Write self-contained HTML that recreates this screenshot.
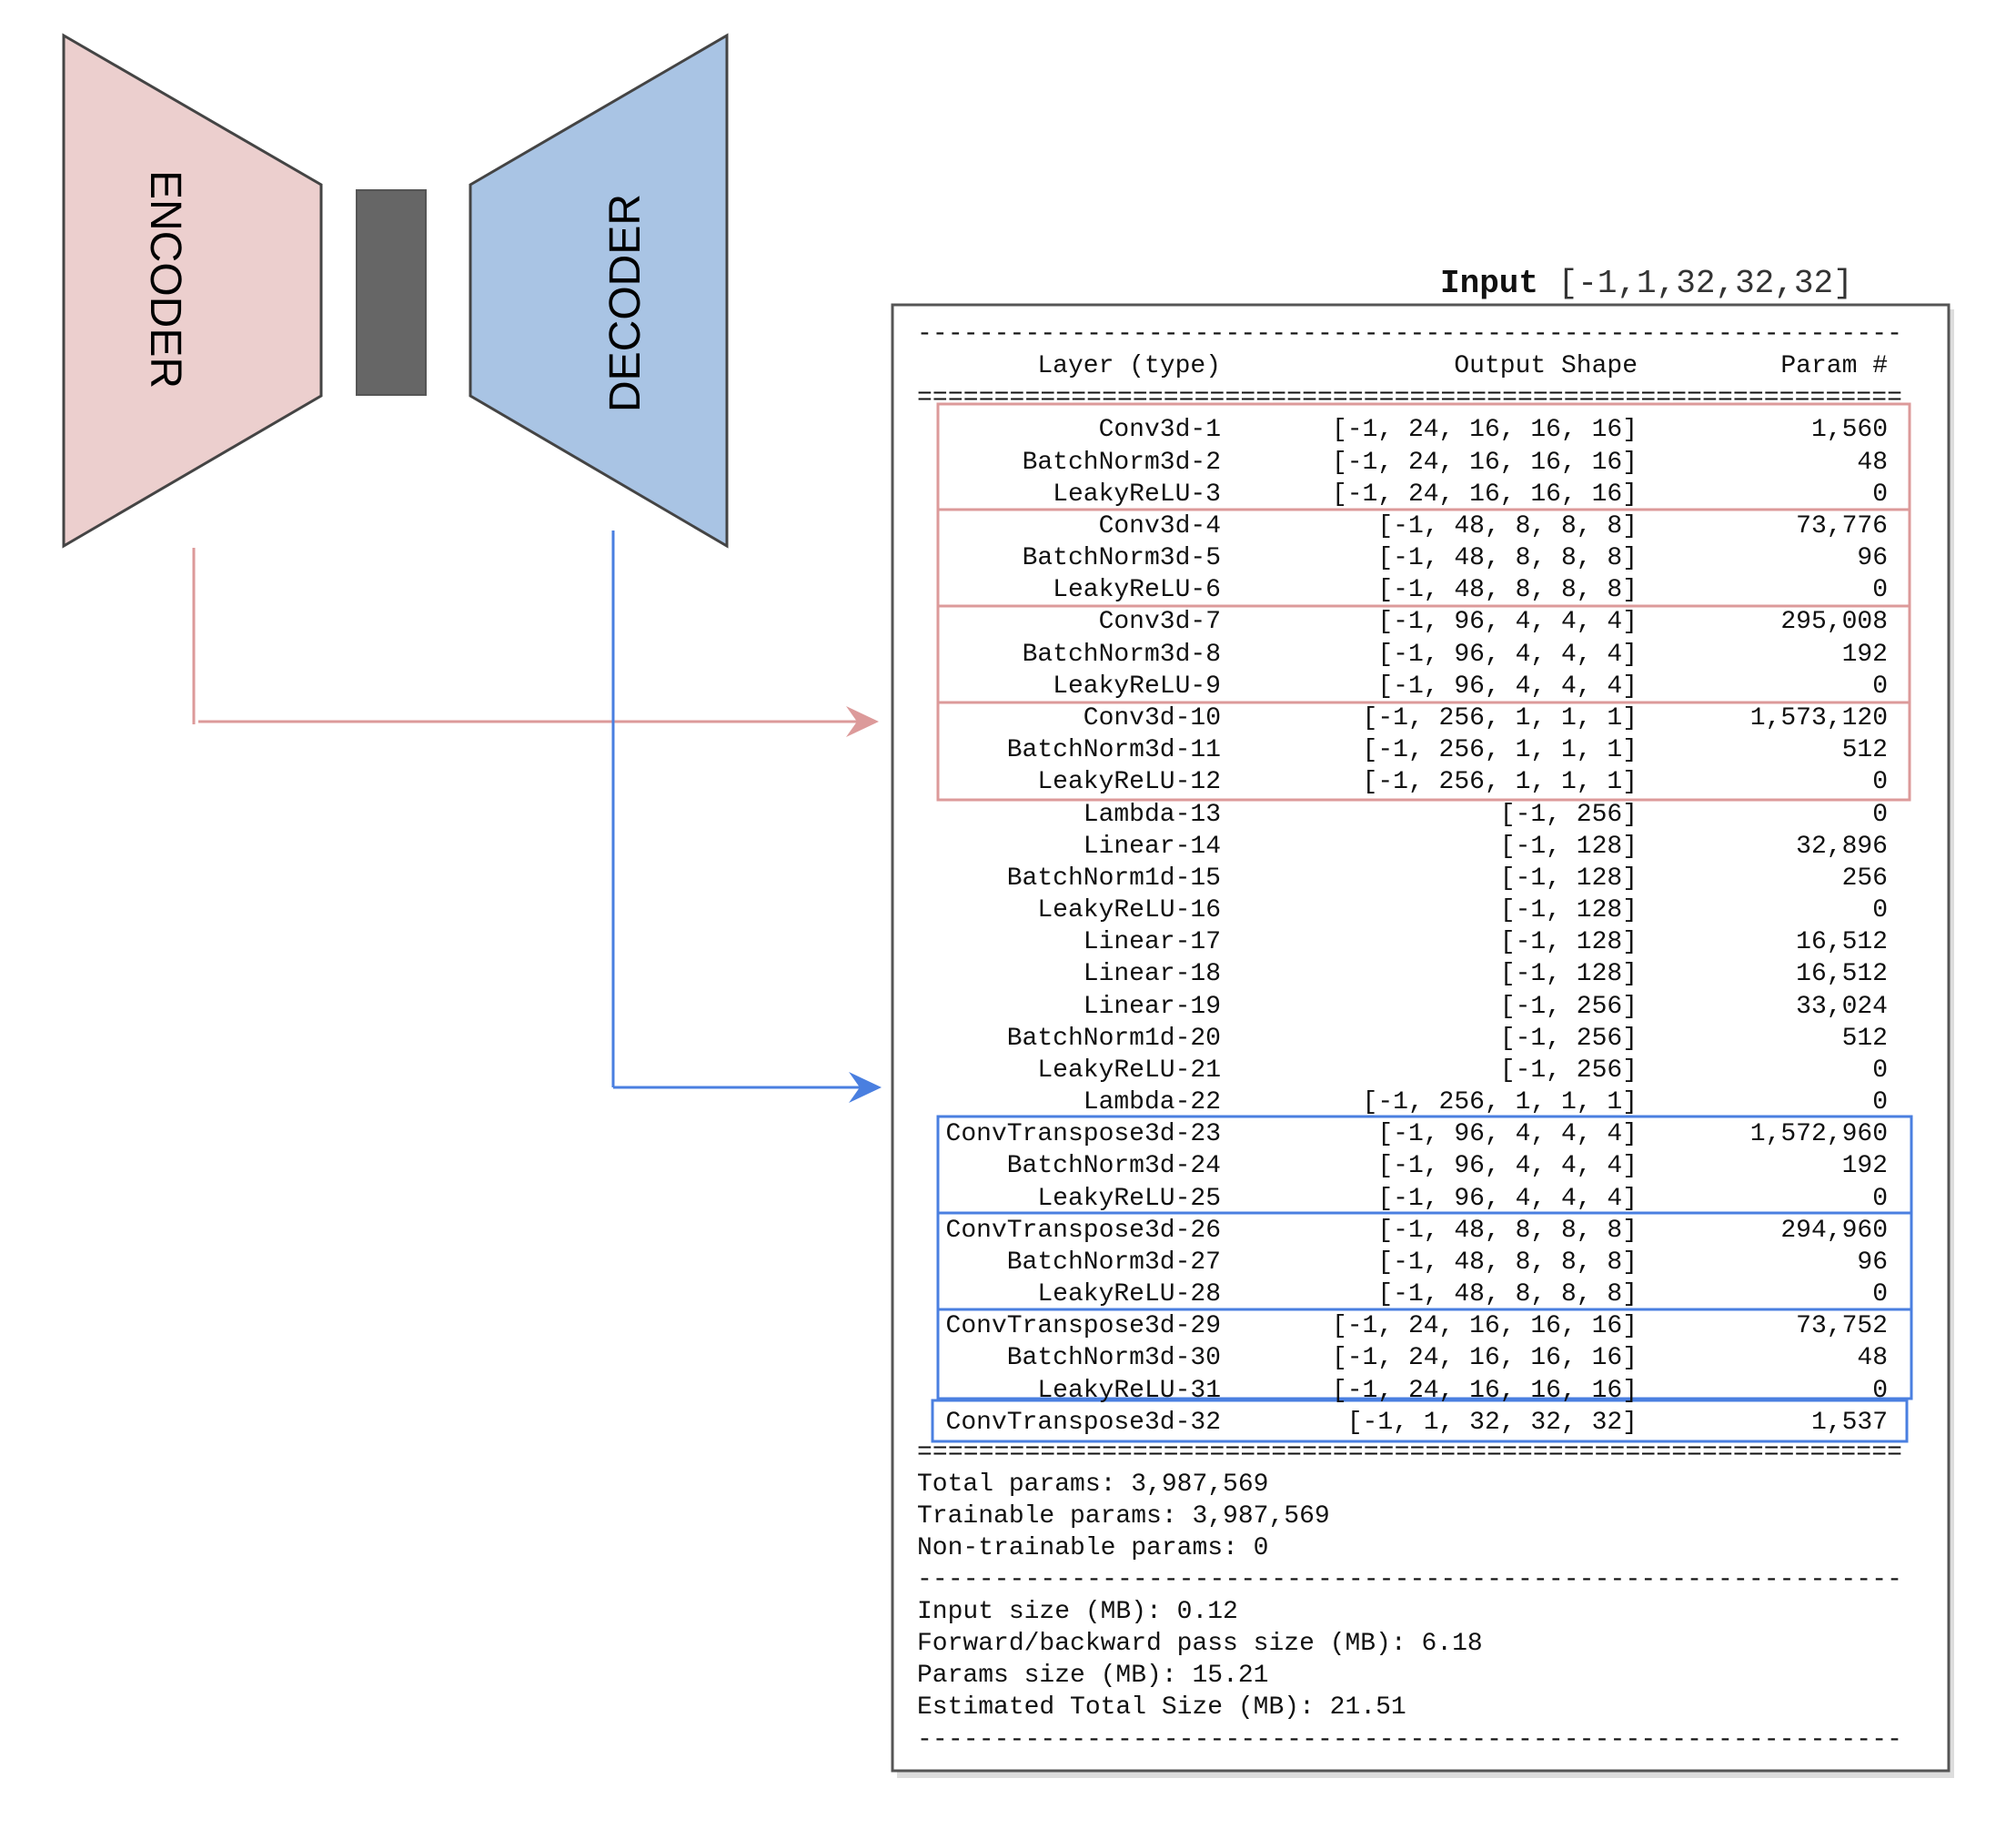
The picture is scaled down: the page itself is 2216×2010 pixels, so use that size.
<!DOCTYPE html>
<html><head><meta charset="utf-8"><style>
html,body{margin:0;padding:0;background:#fff;}
body{width:2216px;height:2010px;position:relative;overflow:hidden;}
.mono{font-family:"Liberation Mono",monospace;font-size:28px;color:#111;white-space:pre;}
.row{position:absolute;left:1008px;height:35.17px;line-height:35.17px;margin-top:3px;}
.row span{display:inline-block;text-align:right;}
.a{width:334px}.b{width:458px}.c{width:275px}
.ln{position:absolute;left:1008px;height:35px;line-height:35px;margin-top:3px;}
.dash{letter-spacing:0.12px;}
</style></head><body>
<svg width="2216" height="2010" style="position:absolute;left:0;top:0">
<polygon points="70,39 353,203 353,435 70,600" fill="#eccfce" stroke="#444" stroke-width="3"/>
<rect x="392" y="209" width="76" height="225" fill="#666" stroke="#555" stroke-width="2"/>
<polygon points="517,203 799,39 799,600 517,435" fill="#a9c4e4" stroke="#444" stroke-width="3"/>
<text x="0" y="0" transform="translate(166,307) rotate(90)" text-anchor="middle" font-family="Liberation Sans, sans-serif" font-size="48" fill="#000">ENCODER</text>
<text x="0" y="0" transform="translate(703,333) rotate(-90)" text-anchor="middle" font-family="Liberation Sans, sans-serif" font-size="48" fill="#000">DECODER</text>
<line x1="213" y1="602" x2="213" y2="796" stroke="#dc9a9a" stroke-width="3"/>
<line x1="218" y1="793" x2="960" y2="793" stroke="#dc9a9a" stroke-width="3"/>
<polygon points="966,793 930,776 942,793 930,810" fill="#dc9a9a"/>
<line x1="674" y1="583" x2="674" y2="1195" stroke="#4a7fe0" stroke-width="3"/>
<line x1="674" y1="1195" x2="962" y2="1195" stroke="#4a7fe0" stroke-width="3"/>
<polygon points="969,1195 933,1178 945,1195 933,1212" fill="#4a7fe0"/>
<rect x="986" y="340" width="1162" height="1614" fill="#bbb" opacity="0.5"/>
<rect x="981" y="335" width="1161" height="1611" fill="#fff" stroke="#555" stroke-width="3"/>
<rect x="1031" y="444" width="1068" height="435" fill="none" stroke="#dc9a9a" stroke-width="3"/>
<line x1="1031" y1="560" x2="2099" y2="560" stroke="#dc9a9a" stroke-width="3"/>
<line x1="1031" y1="666" x2="2099" y2="666" stroke="#dc9a9a" stroke-width="3"/>
<line x1="1031" y1="772" x2="2099" y2="772" stroke="#dc9a9a" stroke-width="3"/>
<rect x="1031" y="1227" width="1070" height="310" fill="none" stroke="#4a7fe0" stroke-width="3"/>
<line x1="1031" y1="1333" x2="2101" y2="1333" stroke="#4a7fe0" stroke-width="3"/>
<line x1="1031" y1="1439" x2="2101" y2="1439" stroke="#4a7fe0" stroke-width="3"/>
<rect x="1025" y="1539" width="1071" height="45" fill="none" stroke="#4a7fe0" stroke-width="3"/>
</svg>
<div class="mono" style="position:absolute;left:1583px;top:292px;font-size:36px;line-height:40px;"><b>Input</b> <span style="color:#333">[-1,1,32,32,32]</span></div>
<div class="mono dash ln" style="top:347px">----------------------------------------------------------------</div>
<div class="mono row" style="top:382px"><span class="a">Layer (type)</span><span class="b">Output Shape</span><span class="c">Param #</span></div>
<div class="mono dash ln" style="top:417px">================================================================</div>
<div class="mono row" style="top:452.4px"><span class="a">Conv3d-1</span><span class="b">[-1, 24, 16, 16, 16]</span><span class="c">1,560</span></div>
<div class="mono row" style="top:487.6px"><span class="a">BatchNorm3d-2</span><span class="b">[-1, 24, 16, 16, 16]</span><span class="c">48</span></div>
<div class="mono row" style="top:522.7px"><span class="a">LeakyReLU-3</span><span class="b">[-1, 24, 16, 16, 16]</span><span class="c">0</span></div>
<div class="mono row" style="top:557.9px"><span class="a">Conv3d-4</span><span class="b">[-1, 48, 8, 8, 8]</span><span class="c">73,776</span></div>
<div class="mono row" style="top:593.1px"><span class="a">BatchNorm3d-5</span><span class="b">[-1, 48, 8, 8, 8]</span><span class="c">96</span></div>
<div class="mono row" style="top:628.3px"><span class="a">LeakyReLU-6</span><span class="b">[-1, 48, 8, 8, 8]</span><span class="c">0</span></div>
<div class="mono row" style="top:663.4px"><span class="a">Conv3d-7</span><span class="b">[-1, 96, 4, 4, 4]</span><span class="c">295,008</span></div>
<div class="mono row" style="top:698.6px"><span class="a">BatchNorm3d-8</span><span class="b">[-1, 96, 4, 4, 4]</span><span class="c">192</span></div>
<div class="mono row" style="top:733.8px"><span class="a">LeakyReLU-9</span><span class="b">[-1, 96, 4, 4, 4]</span><span class="c">0</span></div>
<div class="mono row" style="top:769.0px"><span class="a">Conv3d-10</span><span class="b">[-1, 256, 1, 1, 1]</span><span class="c">1,573,120</span></div>
<div class="mono row" style="top:804.1px"><span class="a">BatchNorm3d-11</span><span class="b">[-1, 256, 1, 1, 1]</span><span class="c">512</span></div>
<div class="mono row" style="top:839.3px"><span class="a">LeakyReLU-12</span><span class="b">[-1, 256, 1, 1, 1]</span><span class="c">0</span></div>
<div class="mono row" style="top:874.5px"><span class="a">Lambda-13</span><span class="b">[-1, 256]</span><span class="c">0</span></div>
<div class="mono row" style="top:909.6px"><span class="a">Linear-14</span><span class="b">[-1, 128]</span><span class="c">32,896</span></div>
<div class="mono row" style="top:944.8px"><span class="a">BatchNorm1d-15</span><span class="b">[-1, 128]</span><span class="c">256</span></div>
<div class="mono row" style="top:980.0px"><span class="a">LeakyReLU-16</span><span class="b">[-1, 128]</span><span class="c">0</span></div>
<div class="mono row" style="top:1015.2px"><span class="a">Linear-17</span><span class="b">[-1, 128]</span><span class="c">16,512</span></div>
<div class="mono row" style="top:1050.3px"><span class="a">Linear-18</span><span class="b">[-1, 128]</span><span class="c">16,512</span></div>
<div class="mono row" style="top:1085.5px"><span class="a">Linear-19</span><span class="b">[-1, 256]</span><span class="c">33,024</span></div>
<div class="mono row" style="top:1120.7px"><span class="a">BatchNorm1d-20</span><span class="b">[-1, 256]</span><span class="c">512</span></div>
<div class="mono row" style="top:1155.9px"><span class="a">LeakyReLU-21</span><span class="b">[-1, 256]</span><span class="c">0</span></div>
<div class="mono row" style="top:1191.0px"><span class="a">Lambda-22</span><span class="b">[-1, 256, 1, 1, 1]</span><span class="c">0</span></div>
<div class="mono row" style="top:1226.2px"><span class="a">ConvTranspose3d-23</span><span class="b">[-1, 96, 4, 4, 4]</span><span class="c">1,572,960</span></div>
<div class="mono row" style="top:1261.4px"><span class="a">BatchNorm3d-24</span><span class="b">[-1, 96, 4, 4, 4]</span><span class="c">192</span></div>
<div class="mono row" style="top:1296.6px"><span class="a">LeakyReLU-25</span><span class="b">[-1, 96, 4, 4, 4]</span><span class="c">0</span></div>
<div class="mono row" style="top:1331.7px"><span class="a">ConvTranspose3d-26</span><span class="b">[-1, 48, 8, 8, 8]</span><span class="c">294,960</span></div>
<div class="mono row" style="top:1366.9px"><span class="a">BatchNorm3d-27</span><span class="b">[-1, 48, 8, 8, 8]</span><span class="c">96</span></div>
<div class="mono row" style="top:1402.1px"><span class="a">LeakyReLU-28</span><span class="b">[-1, 48, 8, 8, 8]</span><span class="c">0</span></div>
<div class="mono row" style="top:1437.2px"><span class="a">ConvTranspose3d-29</span><span class="b">[-1, 24, 16, 16, 16]</span><span class="c">73,752</span></div>
<div class="mono row" style="top:1472.4px"><span class="a">BatchNorm3d-30</span><span class="b">[-1, 24, 16, 16, 16]</span><span class="c">48</span></div>
<div class="mono row" style="top:1507.6px"><span class="a">LeakyReLU-31</span><span class="b">[-1, 24, 16, 16, 16]</span><span class="c">0</span></div>
<div class="mono row" style="top:1542.8px"><span class="a">ConvTranspose3d-32</span><span class="b">[-1, 1, 32, 32, 32]</span><span class="c">1,537</span></div>
<div class="mono dash ln" style="top:1576px">================================================================</div>
<div class="mono ln" style="top:1611px">Total params: 3,987,569</div>
<div class="mono ln" style="top:1646px">Trainable params: 3,987,569</div>
<div class="mono ln" style="top:1681px">Non-trainable params: 0</div>
<div class="mono dash ln" style="top:1716px">----------------------------------------------------------------</div>
<div class="mono ln" style="top:1751px">Input size (MB): 0.12</div>
<div class="mono ln" style="top:1786px">Forward/backward pass size (MB): 6.18</div>
<div class="mono ln" style="top:1821px">Params size (MB): 15.21</div>
<div class="mono ln" style="top:1856px">Estimated Total Size (MB): 21.51</div>
<div class="mono dash ln" style="top:1892px">----------------------------------------------------------------</div>
</body></html>
